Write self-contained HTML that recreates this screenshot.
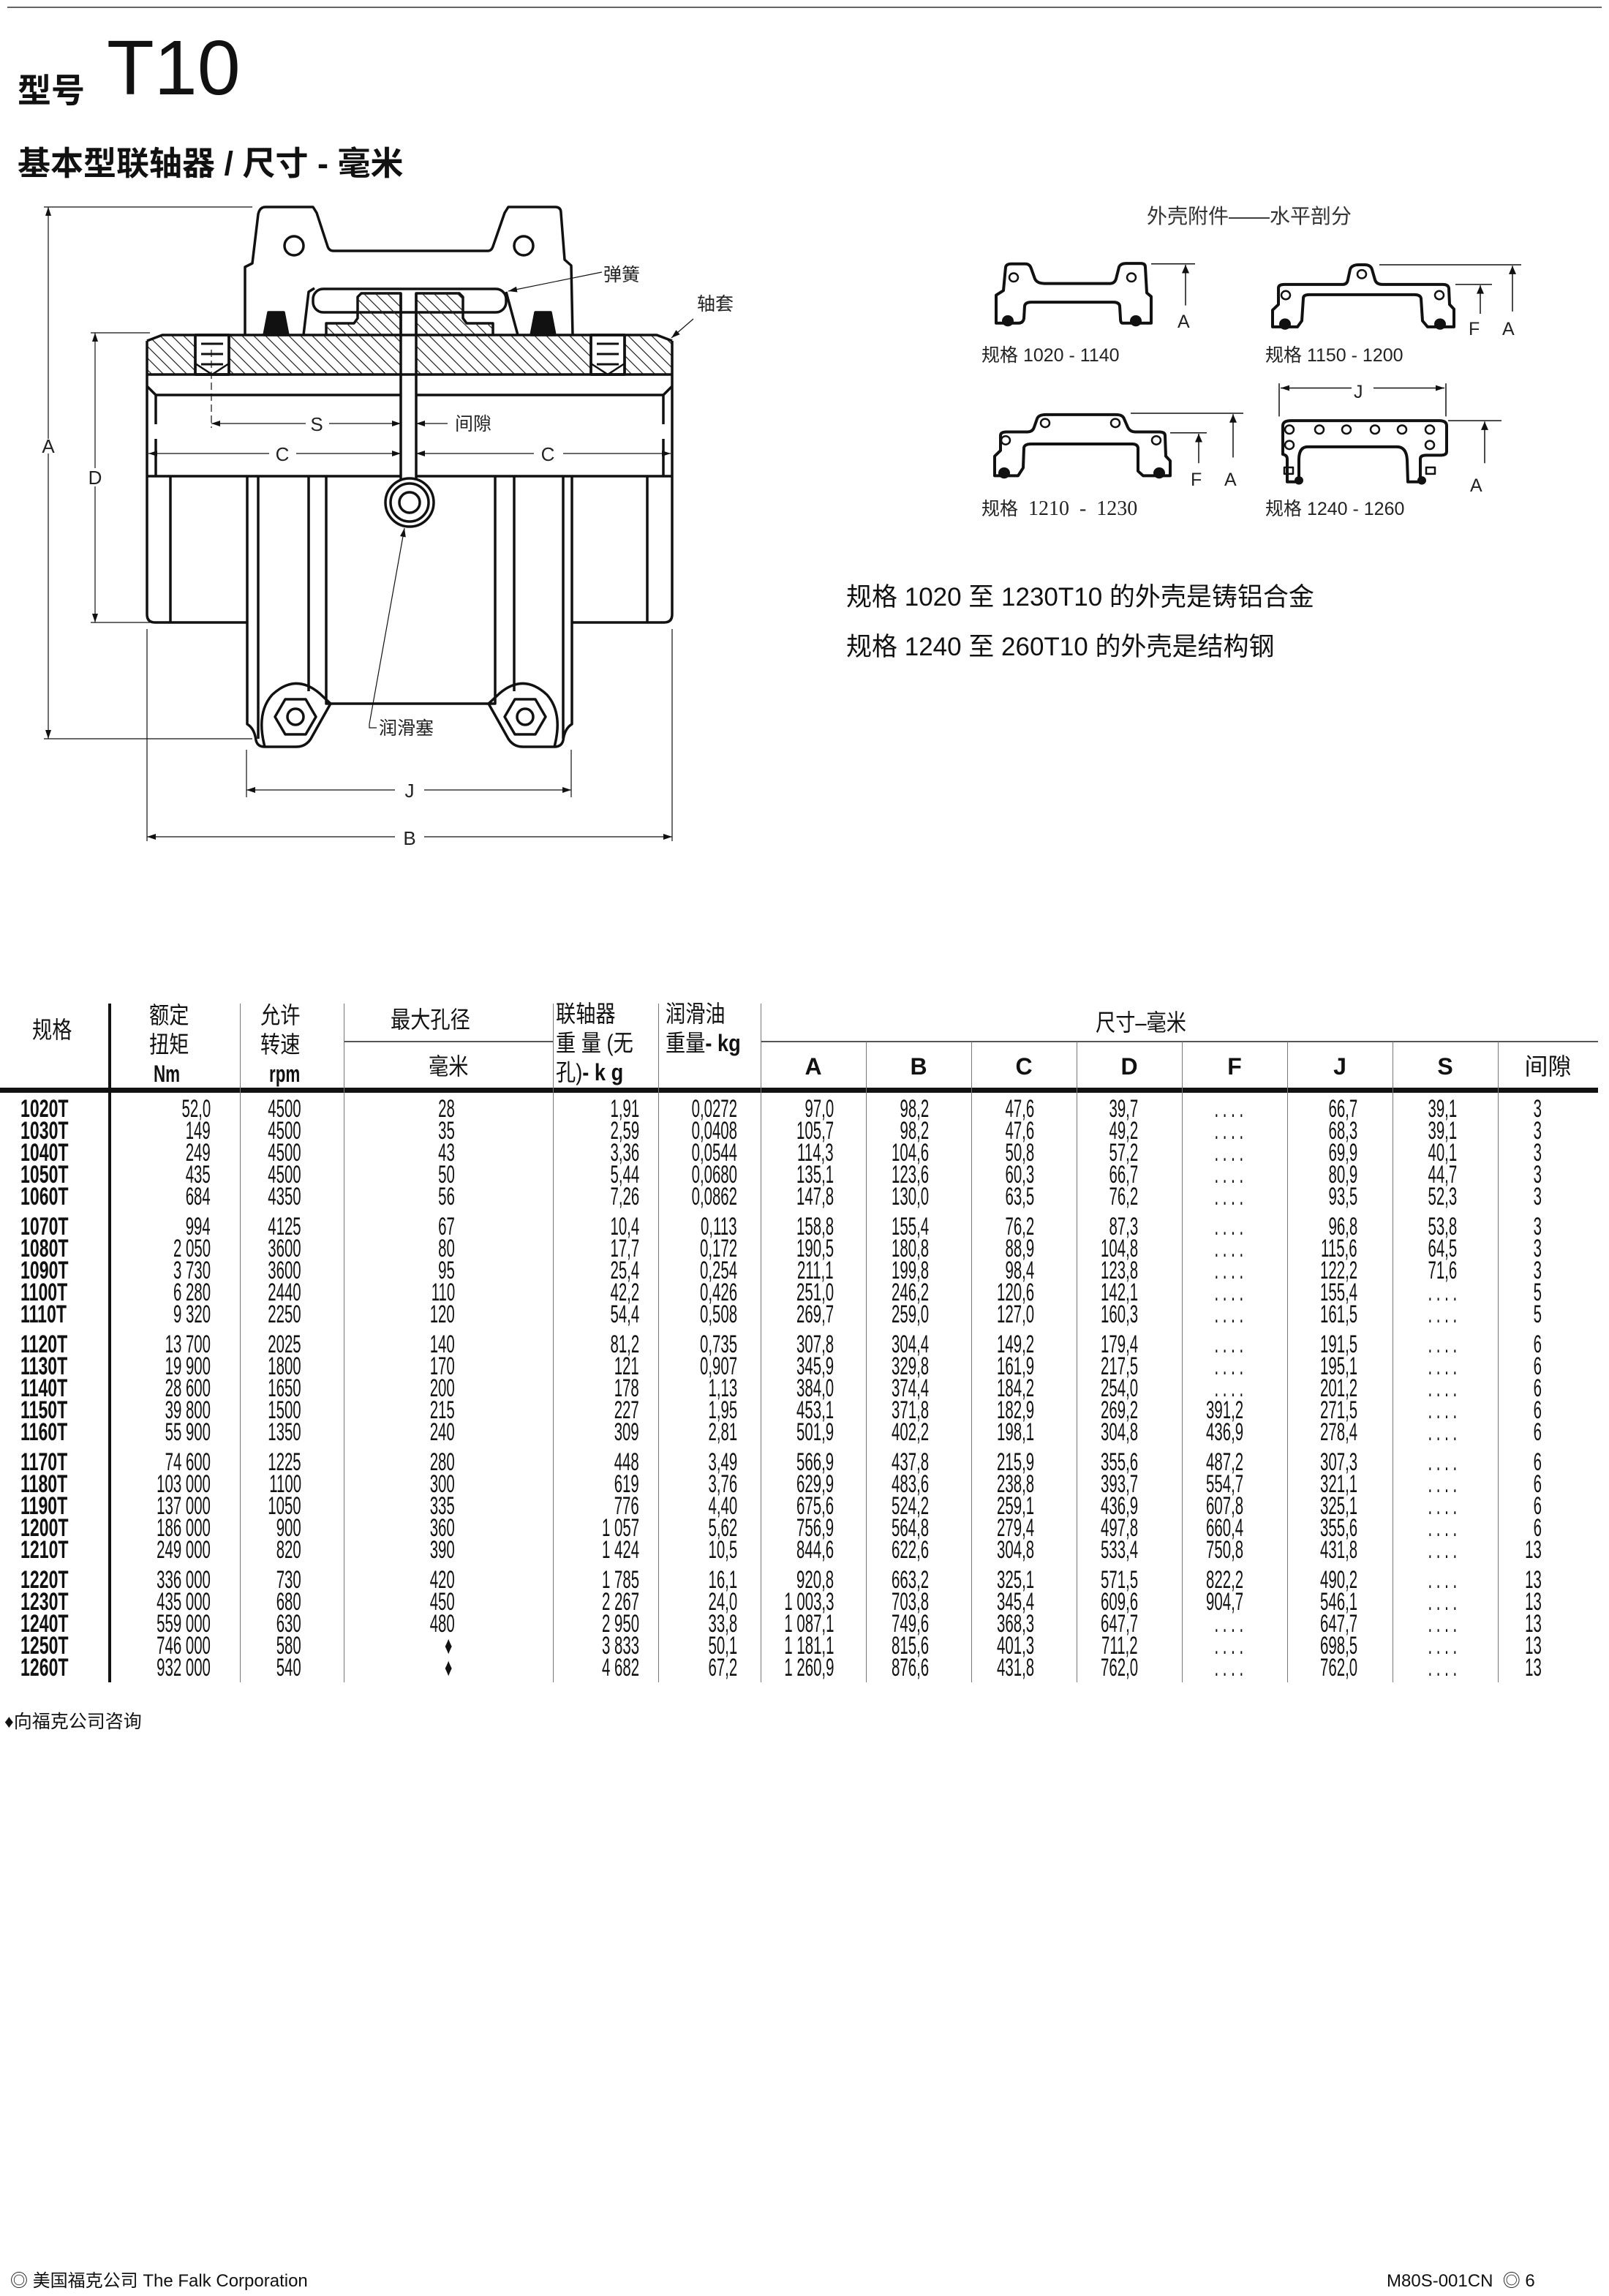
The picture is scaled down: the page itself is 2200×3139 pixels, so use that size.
<!DOCTYPE html>
<html><head><meta charset="utf-8"><style>
html,body{margin:0;padding:0;background:#fff}
body{width:2200px;height:3139px;position:relative;overflow:hidden;font-family:"Liberation Sans","Noto Sans CJK SC",sans-serif;color:#111}
.t{position:absolute;white-space:nowrap}
.r{position:absolute;left:0;width:2200px;height:30px}
.r span,.r b{position:absolute;top:0;font:34px/30px "Liberation Sans","Noto Sans CJK SC",sans-serif;transform:scaleX(.6);transform-origin:100% 50%;white-space:nowrap}
.r b{left:28px;transform:scaleX(.68);transform-origin:0 50%;font-weight:bold}
.a{right:1912px}.b{right:1788px}.c{right:1578px}.d{right:1326px}.e{right:1192px}.f{right:1060px}.g{right:930px}.h{right:786px}.i{right:644px}.j{right:500px}.k{right:344px}.l{right:208px}.m{right:92px}
.hd{position:absolute;font-size:32px;line-height:36px;white-space:nowrap;transform:scaleX(.85);transform-origin:0 0}
.hc{position:absolute;font-size:32px;line-height:36px;white-space:nowrap;text-align:center}
.sl{position:absolute;font-size:25px;line-height:28px;color:#222}
</style></head><body>
<svg width="2200" height="3139" style="position:absolute;left:0;top:0" xmlns="http://www.w3.org/2000/svg">
<defs>
<pattern id="h" width="16" height="16" patternUnits="userSpaceOnUse"><path d="M-4,-4 L20,20 M-4,12 L4,20 M12,-4 L20,4" stroke="#222" stroke-width="1.2"/></pattern>
<marker id="ar" markerWidth="12" markerHeight="8" refX="12" refY="4" orient="auto" markerUnits="userSpaceOnUse"><path d="M0,0 L12,4 L0,8 Z" fill="#111"/></marker>
</defs>
<line x1="10" y1="10" x2="2190" y2="10" stroke="#666" stroke-width="2"/>
<g fill="none" stroke="#111" stroke-width="3.5" stroke-linejoin="round">
<path d="M335,458 L335,365 L345,360 L353,293 Q355,283 363,283 L428,283 L433,291 L448,337 Q450,343 456,343 L667,343 Q672,343 674,337 L690,291 L695,283 L759,283 Q767,283 767,291 L772,355 L781,363 L783,458"/>
<circle cx="402" cy="336" r="13"/><circle cx="716" cy="336" r="13"/>
<path d="M415,458 L422,399 L430,394"/><path d="M692,399 L708,458"/>
<rect x="428" y="395" width="264" height="32" rx="14"/>
<path d="M446,458 L446,442 L484,442 L489,435 L489,406 L494,401 L548,401 L548,458"/>
<path d="M569,458 L569,401 L628,401 L633,406 L633,435 L638,442 L674,442 L674,458"/>
<path d="M446,458 L446,442 L484,442 L489,435 L489,406 L494,401 L548,401 L548,512 L201,512 L201,466 L222,458 Z" fill="url(#h)" stroke="none"/>
<path d="M569,512 L569,401 L628,401 L633,406 L633,435 L638,442 L674,442 L674,458 L898,458 L919,466 L919,512 Z" fill="url(#h)" stroke="none"/>
<rect x="267" y="458" width="46" height="54" fill="#fff"/><rect x="808" y="458" width="46" height="54" fill="#fff"/>
<path d="M201,466 L222,458 L898,458 L919,466"/>
<rect x="267" y="458" width="46" height="54"/><rect x="808" y="458" width="46" height="54"/>
<path d="M275,470h30M275,484h30M275,498h30M816,470h30M816,484h30M816,498h30" stroke-width="3"/>
<path d="M267,497 L290,512 L313,497 M808,497 L831,512 L854,497" stroke-width="2.5"/>
<path d="M201,466 L201,840 Q201,851 212,851 L338,851"/><path d="M919,466 L919,840 Q919,851 908,851 L782,851"/>
<path d="M201,512 L919,512"/><path d="M201,528 L213,540 L548,540 M569,540 L907,540 L919,528"/>
<path d="M213,540 L213,580 M213,600 L213,651 M907,540 L907,580 M907,600 L907,651"/>
<path d="M201,651 L548,651 M569,651 L919,651"/>
<path d="M548,401 L548,655 M569,401 L569,655"/>
<path d="M233,651 L233,851 M885,651 L885,851"/>
<path d="M361,458 L367,427 L388,427 L394,458 Z M726,458 L732,427 L753,427 L759,458 Z" fill="#111"/>
<path d="M338,651 L338,990 Q348,996 350,1012 Q352,1021 362,1021 L372,1021"/>
<path d="M353,651 L353,1010"/>
<path d="M422,651 L422,945"/>
<path d="M446,651 L446,962 L677,962 L677,651"/>
<path d="M782,651 L782,990 Q772,996 770,1012 Q768,1021 758,1021 L748,1021"/>
<path d="M770,651 L770,1010"/><path d="M703,651 L703,945"/>
<path d="M362,1021 Q350,975 372,950 Q404,920 437,948 L452,962 L425,1010 Q418,1021 405,1021 L372,1021"/>
<path d="M758,1021 Q770,975 748,950 Q716,920 683,948 L668,962 L695,1010 Q702,1021 715,1021 L748,1021"/>
<path d="M376,980 L390,956 L418,956 L432,980 L418,1004 L390,1004 Z"/><circle cx="404" cy="980" r="11"/>
<path d="M690,980 L704,956 L732,956 L746,980 L732,1004 L704,1004 Z"/><circle cx="718" cy="980" r="11"/>
<circle cx="560" cy="687" r="33" fill="#fff"/><circle cx="560" cy="687" r="26"/><circle cx="560" cy="687" r="14"/>
</g>
<g stroke="#111" stroke-width="1.2" fill="none">
<path d="M60,283 L345,283 M60,1010 L345,1010 M124,455 L205,455 M124,851 L205,851"/>
<path d="M66,600 L66,283" marker-end="url(#ar)"/><path d="M66,620 L66,1010" marker-end="url(#ar)"/>
<path d="M130,640 L130,455" marker-end="url(#ar)"/><path d="M130,665 L130,851" marker-end="url(#ar)"/>
<path d="M201,860 L201,1150 M919,860 L919,1150 M337,1025 L337,1090 M781,1025 L781,1090"/>
<path d="M540,1080 L337,1080" marker-end="url(#ar)"/><path d="M580,1080 L781,1080" marker-end="url(#ar)"/>
<path d="M540,1144 L201,1144" marker-end="url(#ar)"/><path d="M580,1144 L919,1144" marker-end="url(#ar)"/>
<path d="M289,478 L289,585" stroke-dasharray="10,5"/>
<path d="M418,579 L289,579" marker-end="url(#ar)"/><path d="M450,579 L548,579" marker-end="url(#ar)"/>
<path d="M612,579 L569,579" marker-end="url(#ar)"/>
<path d="M368,620 L203,620" marker-end="url(#ar)"/><path d="M405,620 L548,620" marker-end="url(#ar)"/>
<path d="M730,620 L569,620" marker-end="url(#ar)"/><path d="M770,620 L917,620" marker-end="url(#ar)"/>
<path d="M823,372 L695,398" marker-end="url(#ar)"/>
<path d="M948,436 L918,462" marker-end="url(#ar)"/>
<path d="M515,995 L505,995 L505,990 L553,722" marker-end="url(#ar)"/>
</g>
<g font-family="Liberation Sans" font-size="26" fill="#222" text-anchor="middle">
<text x="66" y="619">A</text><text x="130" y="662">D</text><text x="433" y="589">S</text><text x="386" y="630">C</text><text x="749" y="630">C</text>
<text x="560" y="1090">J</text><text x="560" y="1155">B</text>
</g>
<g font-family="Liberation Sans,Noto Sans CJK SC,sans-serif" font-size="25" fill="#222">
<text x="622" y="588">间隙</text><text x="825" y="384">弹簧</text><text x="953" y="424">轴套</text><text x="518" y="1004">润滑塞</text>
</g>
<!-- right small diagrams (vertically compressed) -->
<g transform="translate(0,94.1) scale(1,0.638)">
<g fill="none" stroke="#111" stroke-width="4" stroke-linejoin="round">
<g vector-effect="non-scaling-stroke">
<path vector-effect="non-scaling-stroke" d="M1362,545 L1362,485 L1372,475 L1375,425 Q1376,418 1383,418 L1402,418 Q1408,418 1410,428 L1415,450 Q1418,460 1428,460 L1518,460 Q1524,460 1526,450 L1530,425 Q1532,417 1540,417 L1560,417 Q1566,417 1566,425 L1568,480 L1574,488 L1574,545 L1535,545 Q1532,545 1532,535 L1531,508 Q1530,500 1522,500 L1410,500 Q1402,500 1401,508 L1400,535 Q1399,545 1392,545 Z"/>
<path vector-effect="non-scaling-stroke" d="M1740,553 L1740,517 L1748,505 L1748,470 Q1748,462 1756,462 L1836,462 Q1842,462 1843,452 L1846,430 Q1848,420 1858,420 L1866,420 Q1874,420 1876,430 L1880,452 Q1882,462 1890,462 L1973,462 Q1980,462 1981,470 L1982,505 L1988,515 L1988,553 L1952,553 L1945,540 L1943,492 Q1942,484 1934,484 L1790,484 Q1782,484 1782,492 L1780,540 L1774,553 Z"/>
<path vector-effect="non-scaling-stroke" d="M1360,872 L1360,830 L1368,818 L1368,786 Q1368,778 1376,778 L1405,778 Q1412,778 1414,768 L1418,750 Q1420,741 1430,741 L1526,741 Q1535,741 1537,750 L1542,768 Q1545,778 1552,778 L1585,778 Q1593,778 1593,786 L1594,830 L1600,840 L1600,872 L1563,872 L1556,862 L1556,812 Q1555,804 1548,804 L1410,804 Q1401,804 1400,812 L1399,855 L1392,872 Z"/>
<path vector-effect="non-scaling-stroke" d="M1754,765 Q1754,754 1765,754 L1968,754 Q1978,754 1978,765 L1978,820 Q1978,828 1970,828 L1950,828 Q1942,828 1942,836 L1942,885 L1925,885 L1924,838 Q1923,810 1910,810 L1788,810 Q1776,810 1776,838 L1776,885 L1760,885 L1760,836 Q1760,828 1754,826 Z"/>
</g>
<g stroke-width="2.5">
<ellipse vector-effect="non-scaling-stroke" cx="1386" cy="447" rx="6" ry="9"/><ellipse vector-effect="non-scaling-stroke" cx="1547" cy="447" rx="6" ry="9"/>
<ellipse vector-effect="non-scaling-stroke" cx="1758" cy="485" rx="6" ry="9"/><ellipse vector-effect="non-scaling-stroke" cx="1968" cy="485" rx="6" ry="9"/><ellipse vector-effect="non-scaling-stroke" cx="1862" cy="440" rx="6" ry="9"/>
<ellipse vector-effect="non-scaling-stroke" cx="1375" cy="796" rx="6" ry="9"/><ellipse vector-effect="non-scaling-stroke" cx="1581" cy="796" rx="6" ry="9"/><ellipse vector-effect="non-scaling-stroke" cx="1429" cy="759" rx="6" ry="9"/><ellipse vector-effect="non-scaling-stroke" cx="1525" cy="759" rx="6" ry="9"/>
<ellipse vector-effect="non-scaling-stroke" cx="1763" cy="773" rx="6" ry="9"/><ellipse vector-effect="non-scaling-stroke" cx="1804" cy="773" rx="6" ry="9"/><ellipse vector-effect="non-scaling-stroke" cx="1841" cy="773" rx="6" ry="9"/><ellipse vector-effect="non-scaling-stroke" cx="1880" cy="773" rx="6" ry="9"/><ellipse vector-effect="non-scaling-stroke" cx="1917" cy="773" rx="6" ry="9"/><ellipse vector-effect="non-scaling-stroke" cx="1955" cy="773" rx="6" ry="9"/><ellipse vector-effect="non-scaling-stroke" cx="1763" cy="806" rx="6" ry="9"/><ellipse vector-effect="non-scaling-stroke" cx="1955" cy="806" rx="6" ry="9"/>
<rect vector-effect="non-scaling-stroke" x="1756" y="854" width="12" height="14"/><rect vector-effect="non-scaling-stroke" x="1950" y="854" width="12" height="14"/>
</g>
</g>
<g fill="#111">
<ellipse cx="1378" cy="540" rx="8" ry="12"/><ellipse cx="1553" cy="540" rx="8" ry="12"/><ellipse cx="1757" cy="547" rx="8" ry="12"/><ellipse cx="1969" cy="547" rx="8" ry="12"/>
<ellipse cx="1373" cy="866" rx="8" ry="12"/><ellipse cx="1585" cy="866" rx="8" ry="12"/><ellipse cx="1776" cy="882" rx="6" ry="9"/><ellipse cx="1944" cy="882" rx="6" ry="9"/>
</g>
<g stroke="#111" stroke-width="1.5" fill="none">
<path vector-effect="non-scaling-stroke" d="M1574,418 L1634,418 M1886,420 L2080,420 M1990,462 L2040,462 M1546,738 L1700,738 M1600,780 L1650,780 M1980,754 L2053,754 M1749,674 L1749,745 M1977,674 L1977,745"/>
<path vector-effect="non-scaling-stroke" d="M1621,507 L1621,420 M2068,520 L2068,422 M2024,525 L2024,464 M1686,833 L1686,740 M1639,845 L1639,782 M2030,845 L2030,756 M1848,684 L1751,684 M1878,684 L1975,684"/>
</g>
<g fill="#111">
<path d="M1621,420 l-5,18 l10,0 Z M2068,422 l-5,18 l10,0 Z M2024,464 l-5,18 l10,0 Z M1686,740 l-5,18 l10,0 Z M1639,782 l-5,18 l10,0 Z M2030,756 l-5,18 l10,0 Z"/>
<path d="M1751,684 l12,-6 l0,12 Z M1975,684 l-12,-6 l0,12 Z"/>
</g>
</g>
</svg>
<div class="sl" style="left:1610px;top:426px">A</div>
<div class="sl" style="left:2008px;top:436px">F</div>
<div class="sl" style="left:2054px;top:436px">A</div>
<div class="sl" style="left:1628px;top:642px">F</div>
<div class="sl" style="left:1674px;top:642px">A</div>
<div class="sl" style="left:2010px;top:650px">A</div>
<div class="sl" style="left:1851px;top:522px">J</div>

<div class="t" style="left:24px;top:88px;font-size:46px;font-weight:bold">型号</div>
<div class="t" style="left:146px;top:38px;font-size:106px;line-height:110px">T10</div>
<div class="t" style="left:24px;top:198px;font-size:45px;line-height:52px;font-weight:bold">基本型联轴器 / 尺寸 - 毫米</div>

<div class="t" style="left:1568px;top:274px;font-size:28px;color:#333">外壳附件——水平剖分</div>
<div class="sl" style="left:1342px;top:472px">规格 1020 - 1140</div>
<div class="sl" style="left:1730px;top:472px">规格 1150 - 1200</div>
<div class="sl" style="left:1342px;top:682px">规格 <span style="font-family:'Liberation Serif',serif;font-size:28px">&nbsp;1210 &nbsp;- &nbsp;1230</span></div>
<div class="sl" style="left:1730px;top:682px">规格 1240 - 1260</div>
<div class="t" style="left:1157px;top:788px;font-size:35px">规格 1020 至 1230T10 的外壳是铸铝合金</div>
<div class="t" style="left:1157px;top:856px;font-size:35px">规格 1240 至 260T10 的外壳是结构钢</div>

<div style="position:absolute;left:148px;top:1372px;width:4px;height:928px;background:#111"></div>
<div style="position:absolute;left:0;top:1487px;width:2185px;height:7px;background:#111"></div>
<div style="position:absolute;left:470px;top:1423px;width:286px;height:2px;background:#555"></div>
<div style="position:absolute;left:1040px;top:1423px;width:1145px;height:2px;background:#555"></div>
<div style="position:absolute;top:1372px;height:928px;left:328px;width:1px;background:#777"></div>
<div style="position:absolute;top:1372px;height:928px;left:470px;width:1px;background:#777"></div>
<div style="position:absolute;top:1372px;height:928px;left:756px;width:1px;background:#777"></div>
<div style="position:absolute;top:1372px;height:928px;left:900px;width:1px;background:#777"></div>
<div style="position:absolute;top:1372px;height:928px;left:1040px;width:1px;background:#777"></div>
<div style="position:absolute;top:1424px;height:876px;left:1184px;width:1px;background:#777"></div>
<div style="position:absolute;top:1424px;height:876px;left:1328px;width:1px;background:#777"></div>
<div style="position:absolute;top:1424px;height:876px;left:1472px;width:1px;background:#777"></div>
<div style="position:absolute;top:1424px;height:876px;left:1616px;width:1px;background:#777"></div>
<div style="position:absolute;top:1424px;height:876px;left:1760px;width:1px;background:#777"></div>
<div style="position:absolute;top:1424px;height:876px;left:1904px;width:1px;background:#777"></div>
<div style="position:absolute;top:1424px;height:876px;left:2048px;width:1px;background:#777"></div>

<div class="hd" style="left:44px;top:1390px">规格</div>
<div class="hd" style="left:204px;top:1370px">额定</div>
<div class="hd" style="left:204px;top:1410px">扭矩</div>
<div class="hd" style="left:210px;top:1450px;font-weight:bold;transform:scaleX(.7)">Nm</div>
<div class="hd" style="left:356px;top:1370px">允许</div>
<div class="hd" style="left:356px;top:1410px">转速</div>
<div class="hd" style="left:368px;top:1450px;font-weight:bold;transform:scaleX(.7)">rpm</div>
<div class="hd" style="left:534px;top:1376px">最大孔径</div>
<div class="hd" style="left:586px;top:1440px">毫米</div>
<div class="hd" style="left:760px;top:1368px">联轴器</div>
<div class="hd" style="left:760px;top:1408px">重 量 (无</div>
<div class="hd" style="left:760px;top:1448px">孔)<b>- k g</b></div>
<div class="hd" style="left:910px;top:1368px">润滑油</div>
<div class="hd" style="left:910px;top:1408px">重量<b>- kg</b></div>
<div class="hd" style="left:1498px;top:1380px">尺寸–毫米</div>
<div class="hc" style="left:1040px;width:144px;top:1440px;font-weight:bold">A</div>
<div class="hc" style="left:1184px;width:144px;top:1440px;font-weight:bold">B</div>
<div class="hc" style="left:1328px;width:144px;top:1440px;font-weight:bold">C</div>
<div class="hc" style="left:1472px;width:144px;top:1440px;font-weight:bold">D</div>
<div class="hc" style="left:1616px;width:144px;top:1440px;font-weight:bold">F</div>
<div class="hc" style="left:1760px;width:144px;top:1440px;font-weight:bold">J</div>
<div class="hc" style="left:1904px;width:144px;top:1440px;font-weight:bold">S</div>
<div class="hc" style="left:2048px;width:137px;top:1440px">间隙</div>

<div class="r" style="top:1501px"><b>1020T</b><span class="a">52,0</span><span class="b">4500</span><span class="c">28</span><span class="d">1,91</span><span class="e">0,0272</span><span class="f">97,0</span><span class="g">98,2</span><span class="h">47,6</span><span class="i">39,7</span><span class="j">. . . .</span><span class="k">66,7</span><span class="l">39,1</span><span class="m">3</span></div>
<div class="r" style="top:1531px"><b>1030T</b><span class="a">149</span><span class="b">4500</span><span class="c">35</span><span class="d">2,59</span><span class="e">0,0408</span><span class="f">105,7</span><span class="g">98,2</span><span class="h">47,6</span><span class="i">49,2</span><span class="j">. . . .</span><span class="k">68,3</span><span class="l">39,1</span><span class="m">3</span></div>
<div class="r" style="top:1561px"><b>1040T</b><span class="a">249</span><span class="b">4500</span><span class="c">43</span><span class="d">3,36</span><span class="e">0,0544</span><span class="f">114,3</span><span class="g">104,6</span><span class="h">50,8</span><span class="i">57,2</span><span class="j">. . . .</span><span class="k">69,9</span><span class="l">40,1</span><span class="m">3</span></div>
<div class="r" style="top:1591px"><b>1050T</b><span class="a">435</span><span class="b">4500</span><span class="c">50</span><span class="d">5,44</span><span class="e">0,0680</span><span class="f">135,1</span><span class="g">123,6</span><span class="h">60,3</span><span class="i">66,7</span><span class="j">. . . .</span><span class="k">80,9</span><span class="l">44,7</span><span class="m">3</span></div>
<div class="r" style="top:1621px"><b>1060T</b><span class="a">684</span><span class="b">4350</span><span class="c">56</span><span class="d">7,26</span><span class="e">0,0862</span><span class="f">147,8</span><span class="g">130,0</span><span class="h">63,5</span><span class="i">76,2</span><span class="j">. . . .</span><span class="k">93,5</span><span class="l">52,3</span><span class="m">3</span></div>

<div class="r" style="top:1662px"><b>1070T</b><span class="a">994</span><span class="b">4125</span><span class="c">67</span><span class="d">10,4</span><span class="e">0,113</span><span class="f">158,8</span><span class="g">155,4</span><span class="h">76,2</span><span class="i">87,3</span><span class="j">. . . .</span><span class="k">96,8</span><span class="l">53,8</span><span class="m">3</span></div>
<div class="r" style="top:1692px"><b>1080T</b><span class="a">2 050</span><span class="b">3600</span><span class="c">80</span><span class="d">17,7</span><span class="e">0,172</span><span class="f">190,5</span><span class="g">180,8</span><span class="h">88,9</span><span class="i">104,8</span><span class="j">. . . .</span><span class="k">115,6</span><span class="l">64,5</span><span class="m">3</span></div>
<div class="r" style="top:1722px"><b>1090T</b><span class="a">3 730</span><span class="b">3600</span><span class="c">95</span><span class="d">25,4</span><span class="e">0,254</span><span class="f">211,1</span><span class="g">199,8</span><span class="h">98,4</span><span class="i">123,8</span><span class="j">. . . .</span><span class="k">122,2</span><span class="l">71,6</span><span class="m">3</span></div>
<div class="r" style="top:1752px"><b>1100T</b><span class="a">6 280</span><span class="b">2440</span><span class="c">110</span><span class="d">42,2</span><span class="e">0,426</span><span class="f">251,0</span><span class="g">246,2</span><span class="h">120,6</span><span class="i">142,1</span><span class="j">. . . .</span><span class="k">155,4</span><span class="l">. . . .</span><span class="m">5</span></div>
<div class="r" style="top:1782px"><b>1110T</b><span class="a">9 320</span><span class="b">2250</span><span class="c">120</span><span class="d">54,4</span><span class="e">0,508</span><span class="f">269,7</span><span class="g">259,0</span><span class="h">127,0</span><span class="i">160,3</span><span class="j">. . . .</span><span class="k">161,5</span><span class="l">. . . .</span><span class="m">5</span></div>

<div class="r" style="top:1823px"><b>1120T</b><span class="a">13 700</span><span class="b">2025</span><span class="c">140</span><span class="d">81,2</span><span class="e">0,735</span><span class="f">307,8</span><span class="g">304,4</span><span class="h">149,2</span><span class="i">179,4</span><span class="j">. . . .</span><span class="k">191,5</span><span class="l">. . . .</span><span class="m">6</span></div>
<div class="r" style="top:1853px"><b>1130T</b><span class="a">19 900</span><span class="b">1800</span><span class="c">170</span><span class="d">121</span><span class="e">0,907</span><span class="f">345,9</span><span class="g">329,8</span><span class="h">161,9</span><span class="i">217,5</span><span class="j">. . . .</span><span class="k">195,1</span><span class="l">. . . .</span><span class="m">6</span></div>
<div class="r" style="top:1883px"><b>1140T</b><span class="a">28 600</span><span class="b">1650</span><span class="c">200</span><span class="d">178</span><span class="e">1,13</span><span class="f">384,0</span><span class="g">374,4</span><span class="h">184,2</span><span class="i">254,0</span><span class="j">. . . .</span><span class="k">201,2</span><span class="l">. . . .</span><span class="m">6</span></div>
<div class="r" style="top:1913px"><b>1150T</b><span class="a">39 800</span><span class="b">1500</span><span class="c">215</span><span class="d">227</span><span class="e">1,95</span><span class="f">453,1</span><span class="g">371,8</span><span class="h">182,9</span><span class="i">269,2</span><span class="j">391,2</span><span class="k">271,5</span><span class="l">. . . .</span><span class="m">6</span></div>
<div class="r" style="top:1943px"><b>1160T</b><span class="a">55 900</span><span class="b">1350</span><span class="c">240</span><span class="d">309</span><span class="e">2,81</span><span class="f">501,9</span><span class="g">402,2</span><span class="h">198,1</span><span class="i">304,8</span><span class="j">436,9</span><span class="k">278,4</span><span class="l">. . . .</span><span class="m">6</span></div>

<div class="r" style="top:1984px"><b>1170T</b><span class="a">74 600</span><span class="b">1225</span><span class="c">280</span><span class="d">448</span><span class="e">3,49</span><span class="f">566,9</span><span class="g">437,8</span><span class="h">215,9</span><span class="i">355,6</span><span class="j">487,2</span><span class="k">307,3</span><span class="l">. . . .</span><span class="m">6</span></div>
<div class="r" style="top:2014px"><b>1180T</b><span class="a">103 000</span><span class="b">1100</span><span class="c">300</span><span class="d">619</span><span class="e">3,76</span><span class="f">629,9</span><span class="g">483,6</span><span class="h">238,8</span><span class="i">393,7</span><span class="j">554,7</span><span class="k">321,1</span><span class="l">. . . .</span><span class="m">6</span></div>
<div class="r" style="top:2044px"><b>1190T</b><span class="a">137 000</span><span class="b">1050</span><span class="c">335</span><span class="d">776</span><span class="e">4,40</span><span class="f">675,6</span><span class="g">524,2</span><span class="h">259,1</span><span class="i">436,9</span><span class="j">607,8</span><span class="k">325,1</span><span class="l">. . . .</span><span class="m">6</span></div>
<div class="r" style="top:2074px"><b>1200T</b><span class="a">186 000</span><span class="b">900</span><span class="c">360</span><span class="d">1 057</span><span class="e">5,62</span><span class="f">756,9</span><span class="g">564,8</span><span class="h">279,4</span><span class="i">497,8</span><span class="j">660,4</span><span class="k">355,6</span><span class="l">. . . .</span><span class="m">6</span></div>
<div class="r" style="top:2104px"><b>1210T</b><span class="a">249 000</span><span class="b">820</span><span class="c">390</span><span class="d">1 424</span><span class="e">10,5</span><span class="f">844,6</span><span class="g">622,6</span><span class="h">304,8</span><span class="i">533,4</span><span class="j">750,8</span><span class="k">431,8</span><span class="l">. . . .</span><span class="m">13</span></div>

<div class="r" style="top:2145px"><b>1220T</b><span class="a">336 000</span><span class="b">730</span><span class="c">420</span><span class="d">1 785</span><span class="e">16,1</span><span class="f">920,8</span><span class="g">663,2</span><span class="h">325,1</span><span class="i">571,5</span><span class="j">822,2</span><span class="k">490,2</span><span class="l">. . . .</span><span class="m">13</span></div>
<div class="r" style="top:2175px"><b>1230T</b><span class="a">435 000</span><span class="b">680</span><span class="c">450</span><span class="d">2 267</span><span class="e">24,0</span><span class="f">1 003,3</span><span class="g">703,8</span><span class="h">345,4</span><span class="i">609,6</span><span class="j">904,7</span><span class="k">546,1</span><span class="l">. . . .</span><span class="m">13</span></div>
<div class="r" style="top:2205px"><b>1240T</b><span class="a">559 000</span><span class="b">630</span><span class="c">480</span><span class="d">2 950</span><span class="e">33,8</span><span class="f">1 087,1</span><span class="g">749,6</span><span class="h">368,3</span><span class="i">647,7</span><span class="j">. . . .</span><span class="k">647,7</span><span class="l">. . . .</span><span class="m">13</span></div>
<div class="r" style="top:2235px"><b>1250T</b><span class="a">746 000</span><span class="b">580</span><span class="c" style="right:1582px">♦</span><span class="d">3 833</span><span class="e">50,1</span><span class="f">1 181,1</span><span class="g">815,6</span><span class="h">401,3</span><span class="i">711,2</span><span class="j">. . . .</span><span class="k">698,5</span><span class="l">. . . .</span><span class="m">13</span></div>
<div class="r" style="top:2265px"><b>1260T</b><span class="a">932 000</span><span class="b">540</span><span class="c" style="right:1582px">♦</span><span class="d">4 682</span><span class="e">67,2</span><span class="f">1 260,9</span><span class="g">876,6</span><span class="h">431,8</span><span class="i">762,0</span><span class="j">. . . .</span><span class="k">762,0</span><span class="l">. . . .</span><span class="m">13</span></div>

<div class="t" style="left:6px;top:2334px;font-size:25px">♦向福克公司咨询</div>
<div class="t" style="left:14px;top:3098px;font-size:24px">◎ 美国福克公司 The Falk Corporation</div>
<div class="t" style="left:1896px;top:3098px;font-size:24px">M80S-001CN &nbsp;◎ 6</div>
</body></html>
